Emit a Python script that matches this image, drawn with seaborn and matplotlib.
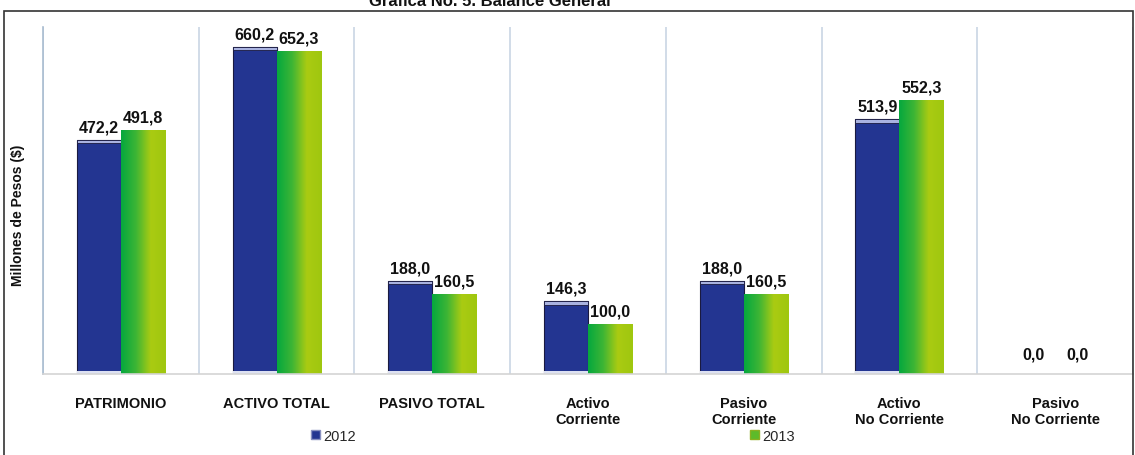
import numpy as np
import pandas as pd
import matplotlib
matplotlib.use("Agg")
import matplotlib.pyplot as plt
import seaborn as sns
from matplotlib.patches import Rectangle, Patch
from matplotlib.colors import LinearSegmentedColormap

categories = ["PATRIMONIO", "ACTIVO TOTAL", "PASIVO TOTAL", "Activo\nCorriente",
              "Pasivo\nCorriente", "Activo\nNo Corriente", "Pasivo\nNo Corriente"]
values_2012 = [472.2, 660.2, 188.0, 146.3, 188.0, 513.9, 0.0]
values_2013 = [491.8, 652.3, 160.5, 100.0, 160.5, 552.3, 0.0]
years = ["2012", "2013"]
title = "Grafica No. 5. Balance General"
ylabel = "Millones de Pesos ($)"

sns.set_theme(style="white")
plt.rcParams['font.family'] = ['Liberation Sans', 'DejaVu Sans']

df = pd.DataFrame({
    "cat": categories * 2,
    "val": values_2012 + values_2013,
    "year": [years[0]] * len(categories) + [years[1]] * len(categories),
})

W, H = 1135, 456
fig = plt.figure(figsize=(W / 100, H / 100), dpi=100)
ax = fig.add_axes([43 / W, (H - 375) / H, (1133 - 43) / W, (375 - 28) / H])

navy = "#233591"
green_a = "#06A83E"
green_b = "#AACB12"

sns.barplot(data=df, x="cat", y="val", hue="year", palette=[navy, green_a],
            width=0.566, gap=0, ax=ax, legend=False, saturation=1)

n = len(categories)
ax.set_xlim(-0.5, n - 0.5)
ax.set_ylim(0, 700)
ax.set_xlabel("")
ax.set_ylabel("")
ax.set_yticks([])

# vertical separators
for i in range(n + 1):
    ax.axvline(i - 0.5, color="#C9D6E4", lw=1.2, zorder=0)
for s in ["top", "right"]:
    ax.spines[s].set_visible(False)
ax.spines["left"].set_color("#A9BCD0")
ax.spines["left"].set_linewidth(1.2)
ax.spines["bottom"].set_color("#D4D4D4")
ax.spines["bottom"].set_linewidth(1.2)

ax.tick_params(axis="x", length=0, pad=16)

# decorate bars
px_per_unit = (375 - 28) / 700
patches = list(ax.patches)
grad = np.linspace(0, 1, 64).reshape(1, -1)
gcmap = LinearSegmentedColormap.from_list("g", [green_a, "#3DB535", green_b, "#9FC70F"])
for k, p in enumerate(patches):
    h = p.get_height()
    x0 = p.get_x()
    w = p.get_width()
    if h <= 0:
        continue
    if k >= n:
        p.set_edgecolor("#7F9E18")
        p.set_linewidth(0.6)
        im = ax.imshow(grad, extent=(x0, x0 + w, 0, h), aspect="auto",
                       cmap=gcmap, zorder=p.get_zorder() + 0.1, interpolation="bicubic")
        im.set_clip_path(p)
    else:
        p.set_edgecolor("#1A1A40")
        p.set_linewidth(0.8)
        hp = 3.5 / px_per_unit
        top = Rectangle((x0, h - hp), w, hp, facecolor="#A9B2E0", edgecolor="#1A1A40",
                        lw=0.6, zorder=p.get_zorder() + 0.1)
        ax.add_patch(top)
        bot = Rectangle((x0, 0), w, hp, facecolor="#DDE1F2", edgecolor="none",
                        zorder=p.get_zorder() + 0.1)
        ax.add_patch(bot)

# value labels
for k, p in enumerate(patches):
    v = values_2012[k] if k < n else values_2013[k - n]
    ax.annotate(f"{v:.1f}".replace(".", ","), (p.get_x() + p.get_width() / 2, p.get_height()),
                xytext=(0, 4 if v > 0 else 9), textcoords="offset points",
                ha="center", va="bottom", fontsize=11.5, fontweight="bold", color="#111111")

ax.set_xticks(range(n))
ax.set_xticklabels(categories)
for lbl in ax.get_xticklabels():
    lbl.set_fontsize(10.5)
    lbl.set_fontweight("bold")
    lbl.set_color("#111111")
    lbl.set_linespacing(1.2)

# y label
fig.text(18 / W, 1 - 215 / H, ylabel, rotation=90, ha="center", va="center",
         fontsize=10, fontweight="bold", color="#111111")

# border and title
fig.patches.append(Rectangle((4 / W, -0.01), (1133 - 4) / W, 1 - 12 / H + 0.01,
                             transform=fig.transFigure, fill=False,
                             edgecolor="#333333", lw=1.2, zorder=5))
fig.text(490 / W, 1 - 2 / H, title, ha="center", va="center", fontsize=12,
         fontweight="bold", color="#111111")

# legend
handles = [Patch(facecolor=navy, edgecolor="#8890C0"),
           Patch(facecolor="#5DBB2A", edgecolor="#8AB020")]
fig.legend(handles, years, loc="center", bbox_to_anchor=(553 / W, 1 - 437 / H),
           ncol=2, frameon=False, fontsize=10.5, handlelength=0.6, handleheight=0.6,
           handletextpad=0.25, columnspacing=27, borderpad=0)

fig.savefig("out.png", dpi=100)
